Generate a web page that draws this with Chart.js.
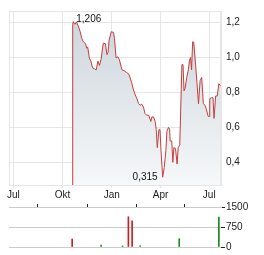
<!DOCTYPE html>
<html>
<head>
<meta charset="utf-8">
<script src="https://cdn.jsdelivr.net/npm/chart.js@4.4.1/dist/chart.umd.min.js"></script>
<style>
  html, body { margin: 0; padding: 0; background: #fff; }
  #wrap { position: relative; width: 264px; height: 255px; }
  #kurs { position: absolute; left: 0; top: 0; }
  #volumen { position: absolute; left: 0; top: 200px; }
</style>
</head>
<body>
<div id="wrap">
  <canvas id="kurs" width="264" height="205"></canvas>
  <canvas id="volumen" width="264" height="55"></canvas>
</div>
<script>
// Startdatum der x-Achse (Tag 0)
const startDatum = '2023-07-01';

// Beschriftung der x-Achse
const achsenDaten = ['2023-07-01', '2023-10-01', '2024-01-01', '2024-04-01', '2024-07-01'];
const achsenLabels = ['Jul', 'Okt', 'Jan', 'Apr', 'Jul'];

// Beschriftung der y-Achsen
const kursTicks = [0.4, 0.6, 0.8, 1.0, 1.2];
const volumenTicks = [0, 750, 1500];

// Kursverlauf (Tage seit Startdatum, Kurs in EUR)
const kursTage = [110, 111, 112, 115, 118, 122, 125, 128, 131, 135, 137, 139, 142, 145, 148, 152,
  155, 158, 161, 164, 168, 172, 175, 177, 179, 183, 187, 189, 192, 195, 198, 203, 207, 212, 216,
  221, 224, 227, 231, 234, 237, 240, 243, 246, 249, 253, 257, 259, 262, 265, 267, 269, 272, 274,
  276, 279, 282, 285, 287, 290, 292, 293, 296, 298, 300, 303, 306, 308, 311, 315, 317, 319, 321,
  324, 327, 329, 331, 333, 335, 337, 340, 343, 346, 349, 352, 355, 358, 361, 364, 366, 367, 370,
  373, 375, 378, 381, 384, 387];
const kursWerte = [0, 1.19, 1.206, 1.19, 1.205, 1.176, 1.148, 1.11, 1.09, 1.08, 1.054, 1.06,
  0.998, 0.98, 0.942, 0.935, 0.93, 0.98, 0.955, 0.99, 1.082, 1.08, 1.017, 1.03, 1.10, 1.148,
  1.145, 1.11, 0.998, 1.005, 0.99, 0.93, 0.925, 0.914, 0.905, 0.858, 0.82, 0.793, 0.764, 0.736,
  0.727, 0.733, 0.718, 0.68, 0.67, 0.67, 0.634, 0.66, 0.66, 0.634, 0.587, 0.484, 0.587, 0.587,
  0.466, 0.315, 0.37, 0.466, 0.578, 0.60, 0.59, 0.522, 0.522, 0.40, 0.484, 0.48, 0.39, 0.484,
  0.50, 0.96, 0.96, 0.81, 0.825, 0.886, 0.93, 0.98, 1.0, 0.93, 1.09, 1.09, 0.98, 0.858, 0.736,
  0.868, 0.886, 0.736, 0.727, 0.70, 0.663, 0.663, 0.764, 0.77, 0.77, 0.652, 0.78, 0.78, 0.85, 0.84];

// Handelsvolumen (Stück)
const volumenTage = [110, 164, 204, 215, 222, 237, 310, 384];
const volumenWerte = [300, 75, 40, 1136, 986, 40, 311, 1125];
const volumenSteigend = [false, true, true, false, false, true, true, true];

function tagNr(datum) {
  return Math.round((Date.parse(datum) - Date.parse(startDatum)) / 86400000);
}
const achsenTage = achsenDaten.map(tagNr);
const deutsch = (v, st) => v.toFixed(st).replace('.', ',');

Chart.defaults.font.family = '"Liberation Sans", Arial, sans-serif';
Chart.defaults.font.size = 10;
Chart.defaults.color = '#222';

// Rahmen um die Zeichenfläche
const rahmen = {
  id: 'rahmen',
  beforeDatasetsDraw(chart) {
    const a = chart.chartArea, c = chart.ctx;
    c.save();
    c.strokeStyle = '#e6e6e6';
    c.lineWidth = 1;
    c.strokeRect(a.left + 0.5, a.top + 0.5, a.right - a.left - 1, a.bottom - a.top);
    c.restore();
  }
};

// Hoch und Tief beschriften
const hochTief = {
  id: 'hochTief',
  afterDatasetsDraw(chart) {
    const werte = kursWerte.slice(1);
    const hoch = Math.max(...werte), tief = Math.min(...werte);
    const iH = kursWerte.indexOf(hoch), iT = kursWerte.indexOf(tief);
    const x = chart.scales.x, y = chart.scales.y, c = chart.ctx;
    c.save();
    c.font = '10px "Liberation Sans", Arial, sans-serif';
    c.fillStyle = '#111';
    c.textBaseline = 'middle';
    c.textAlign = 'left';
    c.fillText(deutsch(hoch, 3), x.getPixelForValue(kursTage[iH]) + 3, y.getPixelForValue(hoch) - 2);
    c.textAlign = 'right';
    c.fillText(deutsch(tief, 3), x.getPixelForValue(kursTage[iT]) - 5, y.getPixelForValue(tief));
    c.restore();
  }
};

const xAchse = {
  type: 'linear',
  min: -8,
  max: 388,
  afterBuildTicks: s => { s.ticks = achsenTage.map(v => ({ value: v })); }
};

new Chart(document.getElementById('kurs'), {
  type: 'line',
  data: {
    datasets: [{
      data: kursTage.map((t, i) => ({ x: t, y: kursWerte[i] })),
      borderColor: '#c43d3d',
      borderWidth: 1,
      pointRadius: 0,
      tension: 0,
      fill: 'start',
      backgroundColor: ctx => {
        const a = ctx.chart.chartArea;
        if (!a) return 'rgba(210,218,224,0.8)';
        const g = ctx.chart.ctx.createLinearGradient(0, a.top, 0, a.bottom);
        g.addColorStop(0, 'rgb(203,212,219)');
        g.addColorStop(1, 'rgb(246,248,249)');
        return g;
      }
    }]
  },
  options: {
    responsive: false,
    animation: false,
    layout: { padding: { left: 9, top: 7, right: 0, bottom: 0 } },
    plugins: { legend: { display: false }, tooltip: { enabled: false } },
    scales: {
      x: {
        ...xAchse,
        afterFit: s => { s.height = 20; },
        grid: { color: '#e6e6e6', tickLength: 3, tickColor: '#e6e6e6' },
        border: { color: '#e6e6e6' },
        ticks: {
          padding: 1,
          maxRotation: 0,
          autoSkip: false,
          callback: v => achsenLabels[achsenTage.indexOf(v)]
        }
      },
      y: {
        position: 'right',
        min: 0.27,
        max: 1.267,
        afterBuildTicks: s => { s.ticks = kursTicks.map(v => ({ value: v })); },
        afterFit: s => { s.width = 43; },
        grid: { color: '#e6e6e6', drawTicks: false },
        border: { color: '#e6e6e6' },
        ticks: { padding: 5, callback: v => deutsch(v, 1) }
      }
    }
  },
  plugins: [rahmen, hochTief]
});

new Chart(document.getElementById('volumen'), {
  type: 'bar',
  data: {
    datasets: [{
      data: volumenTage.map((t, i) => ({ x: t, y: volumenWerte[i] })),
      backgroundColor: volumenSteigend.map(s => s ? '#1a8a1a' : '#c42222'),
      barThickness: 1
    }]
  },
  options: {
    responsive: false,
    animation: false,
    layout: { padding: { left: 9, top: 0, right: 0, bottom: 8 } },
    plugins: { legend: { display: false }, tooltip: { enabled: false } },
    scales: {
      x: {
        ...xAchse,
        position: 'top',
        offset: false,
        afterFit: s => { s.height = 7; },
        grid: { drawOnChartArea: false, tickLength: 3, tickColor: '#222' },
        border: { color: '#cccccc' },
        ticks: { display: false }
      },
      y: {
        position: 'right',
        min: 0,
        max: 1500,
        afterBuildTicks: s => { s.ticks = volumenTicks.map(v => ({ value: v })); },
        afterFit: s => { s.width = 43; },
        grid: { color: '#cccccc', tickLength: 4, tickColor: '#222' },
        border: { display: false },
        ticks: { padding: 1, callback: v => String(v) }
      }
    }
  }
});
</script>
</body>
</html>
